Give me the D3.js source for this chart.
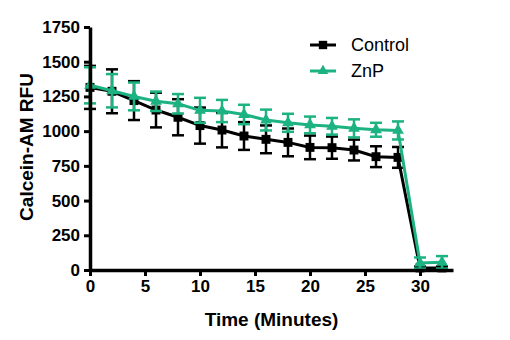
<!DOCTYPE html>
<html>
<head>
<meta charset="utf-8">
<script src="https://cdn.jsdelivr.net/npm/d3@7"></script>
<style>
  body { margin: 0; background: #fff; }
  svg { display: block; font-family: "Liberation Sans", Arial, sans-serif; }
</style>
</head>
<body>
<div class="chart"></div>
<script>
// time points (minutes)
const times = [0, 2, 4, 6, 8, 10, 12, 14, 16, 18, 20, 22, 24, 26, 28, 30, 32];
const controlMean = [1315, 1287, 1220, 1152, 1100, 1040, 1008, 965, 941, 919, 883, 881, 864, 816, 811, 15, 15];
const controlErr = [155, 158, 140, 125, 130, 130, 125, 100, 100, 100, 85, 80, 75, 75, 75, 10, 10];
const znpMean = [1330, 1291, 1250, 1215, 1197, 1150, 1145, 1120, 1080, 1060, 1045, 1035, 1020, 1010, 1005, 50, 55];
const znpErr = [130, 120, 100, 70, 70, 90, 80, 70, 75, 65, 60, 60, 65, 50, 65, 40, 45];
const xTicks = [0, 5, 10, 15, 20, 25, 30];
const yTicks = [0, 250, 500, 750, 1000, 1250, 1500, 1750];

const green = "#1db282";

const width = 510, height = 340;
const margin = { top: 27, right: 55, bottom: 70, left: 90 };

const svg = d3.select(".chart")
    .append("svg")
    .attr("width", width)
    .attr("height", height);

const x = d3.scaleLinear()
    .domain([0, 33])
    .range([margin.left, margin.left + 33 * 11]);
const y = d3.scaleLinear()
    .domain([0, 1750])
    .range([height - margin.bottom, margin.top]);

// series
const series = [
    { name: "Control", mean: controlMean, err: controlErr, color: "#000", shape: "square" },
    { name: "ZnP", mean: znpMean, err: znpErr, color: green, shape: "triangle" }
];

series.forEach(s => {
    const pts = times.map((t, i) => ({ t: t, v: s.mean[i], e: s.err[i] }));
    const g = svg.append("g");

    // error bars
    const eb = g.selectAll(".eb").data(pts).enter().append("g");
    eb.append("line")
        .attr("x1", d => x(d.t)).attr("x2", d => x(d.t))
        .attr("y1", d => y(d.v - d.e)).attr("y2", d => y(d.v + d.e))
        .attr("stroke", s.color).attr("stroke-width", 2.5);
    [-1, 1].forEach(k => {
        eb.append("line")
            .attr("x1", d => x(d.t) - 6).attr("x2", d => x(d.t) + 6)
            .attr("y1", d => y(d.v + k * d.e)).attr("y2", d => y(d.v + k * d.e))
            .attr("stroke", s.color).attr("stroke-width", 2.5);
    });

    g.append("path")
        .datum(pts)
        .attr("fill", "none")
        .attr("stroke", s.color)
        .attr("stroke-width", 3)
        .attr("d", d3.line().x(d => x(d.t)).y(d => y(d.v)));

    const sym = d3.symbol()
        .type(s.shape === "square" ? d3.symbolSquare : d3.symbolTriangle)
        .size(s.shape === "square" ? 80 : 60);
    g.selectAll(".pt").data(pts).enter().append("path")
        .attr("transform", d => "translate(" + x(d.t) + "," + y(d.v) + ")")
        .attr("d", sym)
        .attr("fill", s.color);
});

// axes
const xAxis = d3.axisBottom(x).tickValues(xTicks).tickFormat(d3.format("d"))
    .tickSize(6).tickSizeOuter(0).tickPadding(4);
const yAxis = d3.axisLeft(y).tickValues(yTicks).tickFormat(d3.format("d"))
    .tickSize(6).tickSizeOuter(0).tickPadding(4);

const gx = svg.append("g")
    .attr("transform", "translate(0," + y(0) + ")")
    .call(xAxis);
const gy = svg.append("g")
    .attr("transform", "translate(" + x(0) + ",0)")
    .call(yAxis);

[gx, gy].forEach(g => {
    g.attr("font-size", null).attr("font-family", null);
    g.select(".domain").attr("stroke", "#000").attr("stroke-width", 3.5);
    g.selectAll(".tick line").attr("stroke", "#000").attr("stroke-width", 3);
    g.selectAll(".tick text")
        .attr("fill", "#000")
        .style("font-size", "17px")
        .style("font-weight", "bold");
});

svg.append("text")
    .attr("x", (x(0) + x(33)) / 2)
    .attr("y", 326)
    .attr("text-anchor", "middle")
    .style("font-size", "19px")
    .style("font-weight", "bold")
    .text("Time (Minutes)");

svg.append("text")
    .attr("transform", "rotate(-90)")
    .attr("x", -147)
    .attr("y", 33)
    .attr("text-anchor", "middle")
    .style("font-size", "19px")
    .style("font-weight", "bold")
    .text("Calcein-AM RFU");

// legend
const legend = svg.append("g");
series.forEach((s, i) => {
    const ly = 45 + i * 26;
    legend.append("line")
        .attr("x1", 310).attr("x2", 336)
        .attr("y1", ly).attr("y2", ly)
        .attr("stroke", s.color).attr("stroke-width", 3);
    legend.append("path")
        .attr("transform", "translate(323," + ly + ")")
        .attr("d", d3.symbol()
            .type(s.shape === "square" ? d3.symbolSquare : d3.symbolTriangle)
            .size(s.shape === "square" ? 70 : 50))
        .attr("fill", s.color);
    legend.append("text")
        .attr("x", 351)
        .attr("y", ly + 6)
        .style("font-size", "18px")
        .text(s.name);
});
</script>
</body>
</html>
